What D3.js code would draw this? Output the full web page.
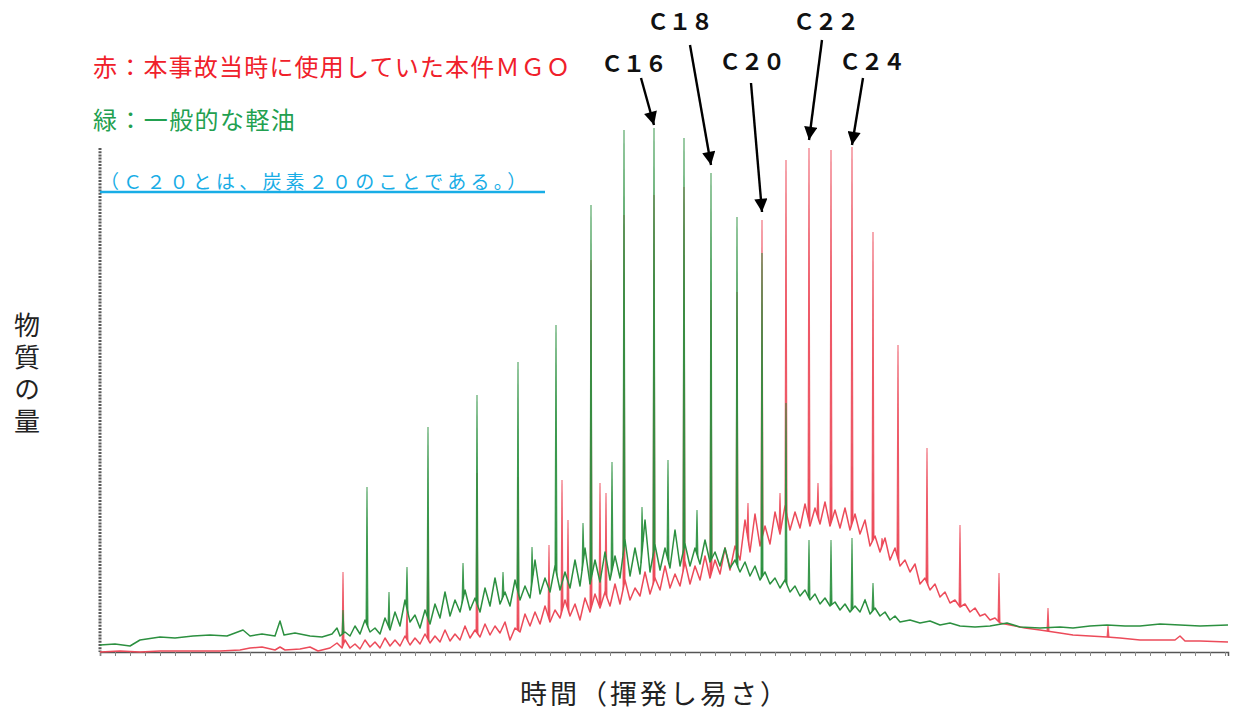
<!DOCTYPE html>
<html><head><meta charset="utf-8">
<script src="https://cdn.jsdelivr.net/npm/d3@7"></script>
<style>body{margin:0;background:#fff} svg{display:block}</style>
</head><body><svg id="c" width="1236" height="711"></svg>
<script>
// ---- data: retention time (min) and relative intensity ----
const greenTrace = [
[0,1.4],[0.75,1.6],[1.5,1.2],[2,2.4],[3,3.0],[3.75,2.8],[4.65,3.2],[5.5,3.4],[6.35,3.2],[7.15,4.4],[7.5,3.2],[8.1,3.6],[8.75,3.2],[9,6.2],[9.2,3.4],[9.75,3.8],[10.5,3.2],[11.1,3.0],[11.6,3.6],[11.85,4.8],[12,3.2],
[12.25,4.0],[12.5,3.2],[12.75,5.2],[13,3.6],[13.25,6.4],[13.5,4.0],[13.75,4.8],[14,3.6],[14.25,6.8],[14.5,4.4],[14.75,8.0],[15,5.2],[15.25,10.4],[15.5,6.0],[15.75,7.4],[16,4.8],[16.25,8.4],[16.5,5.6],[16.75,9.6],[17,6.8],
[17.25,12.0],[17.5,7.2],[17.75,10.4],[18,8.0],[18.25,12.4],[18.5,8.4],[18.75,10.8],[19,8.0],[19.25,12.8],[19.5,9.2],[19.75,14.8],[20,9.6],[20.25,12.0],[20.5,9.2],[20.75,14.4],[21,10.4],[21.25,13.2],[21.5,10.8],[21.75,18.4],[22,11.6],
[22.25,14.8],[22.5,12.0],[22.75,17.2],[23,12.4],[23.25,16.0],[23.5,12.8],[23.75,18.4],[24,13.2],[24.25,20.8],[24.5,13.6],[24.75,18.4],[25,14.0],[25.25,20.0],[25.5,14.4],[25.75,19.2],[26,14.8],[26.25,22.4],[26.5,15.2],[26.75,20.8],[27,15.6],
[27.25,26.4],[27.5,16.0],[27.75,21.4],[28,16.4],[28.25,20.8],[28.5,16.8],[28.75,24.4],[29,17.2],[29.25,21.6],[29.5,17.2],[29.75,20.8],[30,17.6],[30.25,22.4],[30.5,18.0],[30.75,20.0],[31,17.2],[31.25,20.8],[31.5,16.8],[31.75,18.4],[32,16.0],
[32.25,18.0],[32.5,15.2],[32.75,17.2],[33,14.4],[33.25,16.0],[33.5,13.6],[33.75,14.8],[34,12.8],[34.25,14.4],[34.5,12.0],[34.75,13.2],[35,11.2],[35.25,12.4],[35.5,10.4],[35.75,11.6],[36,9.6],[36.25,10.8],[36.5,9.2],[36.75,10.0],[37,8.4],
[37.25,9.6],[37.5,8.0],[37.75,9.2],[38,8.0],[38.25,10.4],[38.5,7.6],[38.75,8.8],[39,7.2],[39.25,8.0],[39.5,6.4],[39.75,7.2],[40,6.0],
[40.5,6.4],[41,5.8],[41.5,6.2],[42,5.4],[42.5,5.8],[43,5.2],[43.75,5.0],[44.5,5.2],[45.35,5.8],[46,5.0],[47,4.8],[48,5.0],[48.65,4.8],[49.5,5.2],[50.35,5.4],[51.25,5.2],[52,5.2],[53,5.6],[54,5.4],[55,5.2],[56.4,5.4]
];
const redTrace = [
[0,0],[1,0.2],[2,0],[3,0.2],[4,0.2],[5,0.2],[6,0.2],[7,0.4],[7.5,0.8],[8.1,1.0],[8.75,0.4],[9,1.0],[9.25,0.4],[10,0.6],[10.5,1.0],[10.9,0.2],[11.5,0.8],[11.85,1.8],[12.1,0.8],
[12.25,2.4],[12.5,0.8],[12.75,1.6],[13,0.6],[13.25,2.4],[13.5,1.0],[13.75,2.0],[14,0.8],[14.25,2.8],[14.5,1.2],[14.75,2.4],[15,1.2],[15.25,3.2],[15.5,1.4],[15.75,2.8],[16,1.6],[16.25,3.6],[16.5,1.8],[16.75,3.2],[17,2.0],
[17.25,4.4],[17.5,2.2],[17.75,3.6],[18,2.4],[18.25,5.2],[18.5,2.8],[18.75,4.4],[19,3.0],[19.25,5.6],[19.5,3.4],[19.75,5.2],[20,3.8],[20.25,6.0],[20.5,2.4],[20.75,4.8],[21,4.0],[21.25,7.6],[21.5,5.2],[21.75,8.0],[22,5.6],
[22.25,9.2],[22.5,6.0],[22.75,8.4],[23,6.8],[23.25,10.4],[23.5,7.2],[23.75,9.6],[24,6.4],[24.25,10.8],[24.5,8.0],[24.75,11.6],[25,8.8],[25.25,12.0],[25.5,9.2],[25.75,13.6],[26,9.6],[26.25,14.4],[26.5,10.4],[26.75,12.8],[27,11.2],
[27.25,16.0],[27.5,11.6],[27.75,14.8],[28,12.4],[28.25,17.2],[28.5,12.8],[28.75,15.6],[29,13.2],[29.25,18.0],[29.5,13.6],[29.75,17.2],[30,14.4],[30.25,19.2],[30.5,14.8],[30.75,18.4],[31,15.6],[31.25,20.8],[31.5,16.4],[31.75,21.2],[32,18.4],
[32.25,26.4],[32.5,20.0],[32.75,27.6],[33,21.2],[33.25,25.2],[33.5,21.6],[33.75,28.0],[34,23.6],[34.25,29.2],[34.5,24.4],[34.75,28.0],[35,24.8],[35.25,29.6],[35.5,25.2],[35.75,28.8],[36,25.6],[36.25,30.0],[36.5,25.2],[36.75,28.4],[37,24.8],
[37.25,28.8],[37.5,24.4],[37.75,27.6],[38,23.6],[38.25,26.4],[38.5,21.2],[38.75,23.2],[39,20.0],[39.25,22.8],[39.5,18.4],[39.75,20.8],[40,17.2],[40.25,18.4],[40.5,16.0],[40.75,17.6],[41,13.6],[41.25,14.8],[41.5,12.4],[41.75,13.6],[42,11.0],
[42.25,12.0],[42.5,9.8],[42.75,10.4],[43,9.0],[43.25,9.6],[43.5,8.0],[43.75,8.8],[44,7.2],[44.25,7.6],[44.5,6.4],[44.75,6.8],[45,5.8],
[45.5,5.4],[46.25,4.8],[47,4.4],[48,3.8],[48.65,3.4],[49.5,3.2],[50.35,3.0],[51,2.8],[52,2.4],[52.65,2.4],[53.75,2.4],[54,3.2],[54.25,2.2],[55,2.2],[56.4,2.0]
];
// peaks: [retention time, peak-top intensity]
const greenPeaks = [
[12.15,8.4],[13.35,33.0],[14.45,12.0],[15.35,17.0],[16.4,45.0],[18.15,17.8],[18.85,51.4],[20.15,16.0],[20.9,58.0],[21.6,21.0],[22.8,65.4],
[24.15,25.8],[24.55,89.4],[25.6,38.0],[26.2,104.4],[27.1,29.0],[27.7,104.8],[28.4,38.4],[29.2,102.8],[29.85,28.4],[30.55,95.8],
[31.85,87.0],[33.1,79.8],[34.3,49.8],[35.45,22.4],[36.55,22.4],[37.6,22.8],[38.25,10.4],[38.65,13.8]
];
const redPeaks = [
[12.15,16.0],[15.35,9.0],[16.4,26.4],[18.85,35.8],[20.9,35.0],[22.45,21.4],[23.1,34.4],[23.4,26.4],[24.55,78.4],[25.0,33.8],
[25.3,31.8],[26.2,87.4],[27.7,91.4],[29.2,93.0],[30.55,70.4],[31.85,72.0],[32.4,29.8],[33.1,86.4],[34.0,31.8],[34.3,98.4],
[35.45,100.8],[35.9,33.8],[36.55,100.4],[37.6,101.0],[38.65,84.0],[39.1,22.8],[39.9,61.4],[41.35,40.8],[43.0,25.4],[44.95,15.8],
[47.4,8.8],[50.4,5.2]
];
const carbonLabels = ["Ｃ１６","Ｃ１８","Ｃ２０","Ｃ２２","Ｃ２４"];
const carbonTimes  = [27.7, 30.55, 33.1, 35.45, 37.6];
const carbonTops   = [104.8, 95.8, 86.4, 100.8, 101.0];
const legendRed   = "赤：本事故当時に使用していた本件ＭＧＯ";
const legendGreen = "緑：一般的な軽油";
const noteText    = "（Ｃ２０とは、炭素２０のことである。）";
const yTitle = "物質の量";
const xTitle = "時間（揮発し易さ）";

// ---- layout ----
const svg = d3.select("#c");
const x = d3.scaleLinear().domain([0, 56.4]).range([100, 1228]);
const y = d3.scaleLinear().domain([0, 100]).range([652, 152]);
const FONT = "'Noto Sans CJK JP','Noto Sans',sans-serif";
const GREEN = "#2c9040", RED = "#ec4b5a";

// axes
svg.append("line").attr("x1", x(0)).attr("x2", x(0)).attr("y1", y(100.8)).attr("y2", y(0))
  .attr("stroke", "#5a5a5a").attr("stroke-width", 3).attr("stroke-dasharray", "2 1.2");
const xAxis = svg.append("g").attr("transform", `translate(0,${y(0)})`)
  .call(d3.axisBottom(x).tickValues(d3.range(0, 56.5, 0.75)).tickSize(4).tickFormat(""));
xAxis.select(".domain").attr("stroke", "#555").attr("stroke-width", 1.5);
xAxis.selectAll(".tick line").attr("stroke", "#888");

const line = d3.line().x(d => x(d[0])).y(d => y(d[1]));
function drawSeries(trace, peaks, color) {
  const base = d3.scaleLinear().domain(trace.map(d => d[0])).range(trace.map(d => d[1]));
  svg.append("path").datum(trace).attr("d", line).attr("fill", "none")
    .attr("stroke", color).attr("stroke-width", 1.5).attr("stroke-linejoin", "round");
  const w = 0.05;
  svg.append("g").selectAll("path").data(peaks).join("path")
    .attr("d", d => line([[d[0] - w, base(d[0] - w)], [d[0], d[1]], [d[0] + w, base(d[0] + w)]]))
    .attr("fill", color).attr("stroke", color).attr("stroke-width", 1.1).attr("stroke-opacity", 0.85);
}
drawSeries(redTrace, redPeaks, RED);
drawSeries(greenTrace, greenPeaks, GREEN);

// annotations
const defs = svg.append("defs");
defs.append("marker").attr("id", "ah").attr("viewBox", "0 0 10 10").attr("refX", 10).attr("refY", 5)
  .attr("markerWidth", 6).attr("markerHeight", 5.5).attr("markerUnits", "strokeWidth").attr("orient", "auto")
  .append("path").attr("d", "M0,0 L10,5 L0,10 Z").attr("fill", "#000");
const annLayout = [ // [text dx, text y, tail dx, tail y, gap above peak]
  [-20, 62, -13, 78, 3], [-31, 20, -21, 45, 8], [-10, 60, -11, 83, 8], [17, 20, 13, 40, 8], [20, 60, 11, 78, 2]
];
carbonLabels.forEach((lab, i) => {
  const px = x(carbonTimes[i]), py = y(carbonTops[i]);
  const L = annLayout[i];
  svg.append("text").attr("x", px + L[0]).attr("y", L[1]).attr("text-anchor", "middle")
    .attr("dominant-baseline", "central").attr("font-family", FONT).attr("font-size", 22)
    .attr("font-weight", "bold").attr("fill", "#111").text(lab);
  svg.append("line").attr("x1", px + L[2]).attr("y1", L[3]).attr("x2", px).attr("y2", py - L[4])
    .attr("stroke", "#000").attr("stroke-width", 2.4).attr("marker-end", "url(#ah)");
});

// legend texts
svg.append("text").attr("x", 93).attr("y", 65).attr("dominant-baseline", "central")
  .attr("font-family", FONT).attr("font-size", 24).attr("letter-spacing", 1.2).attr("fill", "#f0202a").text(legendRed);
svg.append("text").attr("x", 93).attr("y", 118).attr("dominant-baseline", "central")
  .attr("font-family", FONT).attr("font-size", 24).attr("letter-spacing", 1.4).attr("fill", "#22a050").text(legendGreen);
svg.append("text").attr("x", 100).attr("y", 180).attr("dominant-baseline", "central")
  .attr("font-family", FONT).attr("font-size", 19).attr("letter-spacing", 4.2).attr("fill", "#18ade6").text(noteText);
svg.append("line").attr("x1", 100).attr("x2", 545).attr("y1", 192).attr("y2", 192)
  .attr("stroke", "#18ade6").attr("stroke-width", 2.5);

// axis titles (vertical y title as one text)
svg.append("text").attr("x", 27).attr("y", 312).attr("writing-mode", "vertical-rl")
  .attr("font-family", FONT).attr("font-size", 26).attr("letter-spacing", 6).attr("fill", "#222").text(yTitle);
svg.append("text").attr("x", 655).attr("y", 692).attr("text-anchor", "middle").attr("dominant-baseline", "central")
  .attr("font-family", FONT).attr("font-size", 27).attr("letter-spacing", 3).attr("fill", "#222").text(xTitle);
</script></body></html>
